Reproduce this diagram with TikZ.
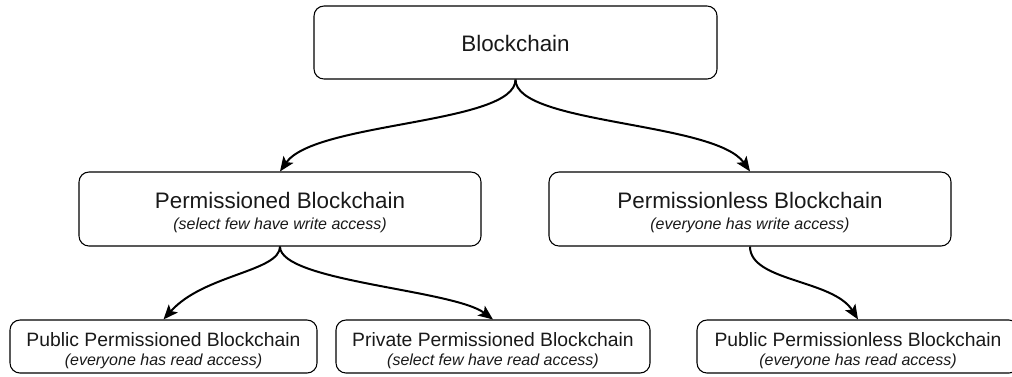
\documentclass[tikz,border=0pt]{standalone}
\usepackage{fontspec}
\setmainfont{Liberation Sans}
\usetikzlibrary{arrows.meta}
\begin{document}
\begin{tikzpicture}[x=0.75pt,y=-0.75pt,
  box/.style={draw=black, line width=0.8pt, rounded corners=7.5pt, inner sep=0pt},
  ttl/.style={anchor=base, inner sep=0pt, text=black!90, font=\fontsize{16.8}{20}\selectfont},
  ttls/.style={anchor=base, inner sep=0pt, text=black!90, font=\fontsize{14.5}{17}\selectfont},
  sub/.style={anchor=base, inner sep=0pt, text=black!90, font=\fontsize{12}{14}\selectfont\itshape},
  conn/.style={line width=1.5pt, -{Stealth[length=11pt,width=9pt,inset=2.5pt]}}
]
\clip (0,0) rectangle (1012,376);
% boxes
\node[box, minimum width=302.25pt, minimum height=54.75pt] (b0) at (515.5,42.5) {};
\node[box, minimum width=301.5pt, minimum height=55.5pt] (b1) at (280,209) {};
\node[box, minimum width=301.5pt, minimum height=55.5pt] (b2) at (750,209) {};
\node[box, minimum width=230.25pt, minimum height=39.75pt] (b3) at (163.5,346.5) {};
\node[box, minimum width=235.5pt, minimum height=39.75pt] (b4) at (493,346.5) {};
\node[box, minimum width=241.5pt, minimum height=39.75pt] (b5) at (858,346.5) {};
% labels
\node[ttl] (t0) at (515.5,51) {Blockchain};
\node[ttl] (t1) at (280,208) {Permissioned Blockchain};
\node[sub] (s1) at (280,229) {(select few have write access)};
\node[ttl] (t2) at (750,208) {Permissionless Blockchain};
\node[sub] (s2) at (750,229) {(everyone has write access)};
\node[ttls] (t3) at (163.5,346) {Public Permissioned Blockchain};
\node[sub] (s3) at (163.5,365) {(everyone has read access)};
\node[ttls] (t4) at (493,346) {Private Permissioned Blockchain};
\node[sub] (s4) at (493,365) {(select few have read access)};
\node[ttls] (t5) at (858,346) {Public Permissionless Blockchain};
\node[sub] (s5) at (858,365) {(everyone has read access)};
% connectors
\draw[conn] (b0.south) .. controls +(0,45) and +(35,-50) .. (b1.north);
\draw[conn] (b0.south) .. controls +(0,45) and +(-35,-50) .. (b2.north);
\draw[conn] (b1.south) .. controls +(0,25) and +(40,-45) .. (b3.north);
\draw[conn] (b1.south) .. controls +(0,35) and +(-40,-30) .. (b4.north);
\draw[conn] (b2.south) .. controls +(0,35) and +(-25,-40) .. (b5.north);
\end{tikzpicture}
\end{document}
